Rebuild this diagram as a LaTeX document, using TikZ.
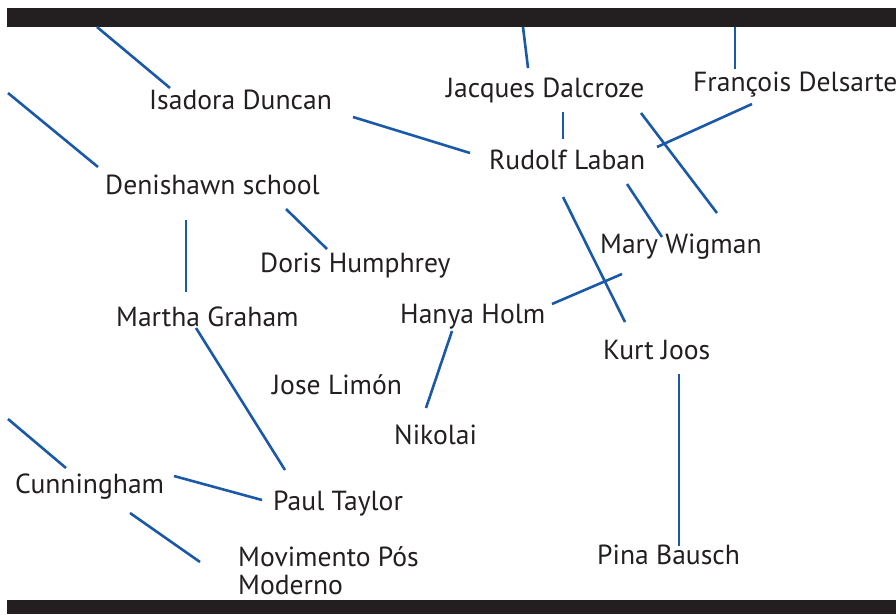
\documentclass[tikz,border=0pt]{standalone}
\usepackage{fontspec}
\setmainfont{PT Sans}
\usepackage{tikz}
\usetikzlibrary{positioning, calc}
\definecolor{azul}{RGB}{26,88,168}
\definecolor{preto}{RGB}{35,31,32}

\begin{document}
\begin{tikzpicture}[x=1pt,y=-1pt]
\tikzstyle{linha}=[draw=azul,line width=2.6pt]
\tikzstyle{nome}=[text=preto,inner sep=0pt,anchor=base west,font=\fontsize{27.6}{28}\selectfont,align=left]
\tikzstyle{barra}=[fill=preto]
\useasboundingbox (0,0) rectangle (896,614);
% barras
\fill[barra] (7,8) rectangle (896,27);
\fill[barra] (7,600) rectangle (896,614);
% nomes
\node[nome] (Isadora) at (149,109) {Isadora Duncan};
\node[nome] (Denishawn) at (105,194) {Denishawn school};
\node[nome] (Dalcroze) at (446,97) {Jacques Dalcroze};
\node[nome] (Delsarte) at (693,91) {François Delsarte};
\node[nome] (Laban) at (489,169) {Rudolf Laban};
\node[nome] (Humphrey) at (260,272) {Doris Humphrey};
\node[nome] (Wigman) at (600,253) {Mary Wigman};
\node[nome] (Graham) at (116,326) {Martha Graham};
\node[nome] (Holm) at (400,323) {Hanya Holm};
\node[nome] (Joos) at (603,359) {Kurt Joos};
\node[nome] (Limon) at (272,394) {Jose Limón};
\node[nome] (Nikolai) at (394,444) {Nikolai};
\node[nome] (Cunningham) at (15,493) {Cunningham};
\node[nome] (Taylor) at (273,510) {Paul Taylor};
\node[nome] (Movimento) at (238,594) {Movimento Pós\\Moderno};
\node[nome] (Bausch) at (597,564) {Pina Bausch};
% pontas das linhas
\coordinate (IDa) at (97,27);    \coordinate (IDb) at (170,88);
\coordinate (DSa) at (8,93);     \coordinate (DSb) at (98,167);
\coordinate (IDLa) at (353,117); \coordinate (IDLb) at (470,153);
\coordinate (JDa) at (523,27);   \coordinate (JDb) at (528,68);
\coordinate (FDa) at (735,27);   \coordinate (FDb) at (735,69);
\coordinate (JDLa) at (563,112); \coordinate (JDLb) at (563,139);
\coordinate (JDWa) at (641,113); \coordinate (JDWb) at (717,213);
\coordinate (FDLa) at (752,104); \coordinate (FDLb) at (657,147);
\coordinate (RLWa) at (627,184); \coordinate (RLWb) at (662,237);
\coordinate (RLKa) at (563,197); \coordinate (RLKb) at (625,322);
\coordinate (DSGa) at (186,220); \coordinate (DSGb) at (186,292);
\coordinate (DSHa) at (286,209); \coordinate (DSHb) at (327,249);
\coordinate (MGPa) at (196,328); \coordinate (MGPb) at (285,470);
\coordinate (HHNa) at (452,331); \coordinate (HHNb) at (426,408);
\coordinate (HHWa) at (552,304); \coordinate (HHWb) at (622,274);
\coordinate (KJPa) at (679,374); \coordinate (KJPb) at (679,546);
\coordinate (MCa) at (8,419);    \coordinate (MCb) at (66,468);
\coordinate (MCPa) at (174,476); \coordinate (MCPb) at (262,500);
\coordinate (MCMa) at (130,513); \coordinate (MCMb) at (200,562);
% linhas
\draw[linha] (IDa)--(IDb);
\draw[linha] (DSa)--(DSb);
\draw[linha] (IDLa)--(IDLb);
\draw[linha] (JDa)--(JDb);
\draw[linha] (FDa)--(FDb);
\draw[linha] (JDLa)--(JDLb);
\draw[linha] (JDWa)--(JDWb);
\draw[linha] (FDLa)--(FDLb);
\draw[linha] (RLWa)--(RLWb);
\draw[linha] (RLKa)--(RLKb);
\draw[linha] (DSGa)--(DSGb);
\draw[linha] (DSHa)--(DSHb);
\draw[linha] (MGPa)--(MGPb);
\draw[linha] (HHNa)--(HHNb);
\draw[linha] (HHWa)--(HHWb);
\draw[linha] (KJPa)--(KJPb);
\draw[linha] (MCa)--(MCb);
\draw[linha] (MCPa)--(MCPb);
\draw[linha] (MCMa)--(MCMb);
\end{tikzpicture}
\end{document}
